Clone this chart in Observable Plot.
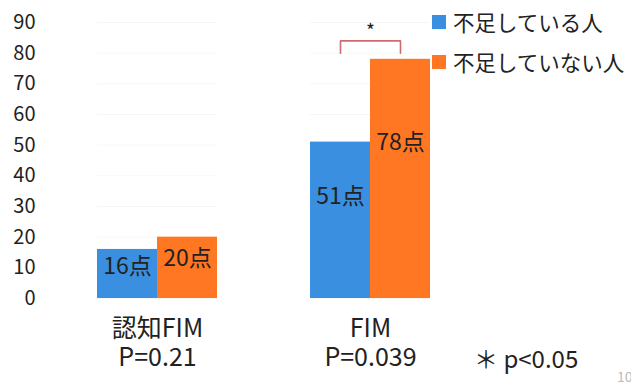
<!DOCTYPE html>
<html>
<head>
<meta charset="utf-8">
<script src="https://cdn.jsdelivr.net/npm/d3@7"></script>
<script src="https://cdn.jsdelivr.net/npm/@observablehq/plot@0.6"></script>
<style>
  html, body { margin: 0; padding: 0; background: #fff; }
  #chart { position: relative; width: 631px; height: 387px; font-family: "Noto Sans CJK JP", "Noto Sans", sans-serif; color: #222; }
  .legend { position: absolute; left: 432px; top: 2px; font-size: 21.5px; line-height: 40px; }
  .legend .row { display: flex; align-items: center; white-space: nowrap; }
  .legend .sw { width: 14px; height: 14px; margin-right: 7px; }
  .note { position: absolute; left: 474px; top: 340px; font-size: 24px; white-space: nowrap; }
  .page { position: absolute; left: 617px; top: 366px; font-size: 14px; color: #bbb; }
</style>
</head>
<body>
<div id="chart"></div>
<script>
// Measures compared and their p-values
const measures = ["認知FIM", "FIM"];
const pValues = ["P=0.21", "P=0.039"];
// Two groups of patients
const groups = ["不足している人", "不足していない人"];
const colors = ["#3a8fe0", "#ff7722"];
// Mean scores (点) per measure, by group
const lacking = [16, 51];
const notLacking = [20, 78];
// Measure with a significant difference (* p<0.05)
const significant = "FIM";
const yTicks = [0, 10, 20, 30, 40, 50, 60, 70, 80, 90];

const rows = measures.flatMap((m, i) => [
  {measure: m, group: groups[0], value: lacking[i]},
  {measure: m, group: groups[1], value: notLacking[i]}
]);

// Bracket over the significant pair, just above the taller bar
const sigMax = d3.max(rows.filter(d => d.measure === significant), d => d.value);
const bracket = [
  {measure: significant, group: groups[0], y: sigMax + 2},
  {measure: significant, group: groups[0], y: sigMax + 6},
  {measure: significant, group: groups[1], y: sigMax + 6},
  {measure: significant, group: groups[1], y: sigMax + 2}
];

const font = "Noto Sans CJK JP, Noto Sans, sans-serif";

const plot = Plot.plot({
  width: 631,
  height: 387,
  marginLeft: 50,
  marginRight: 154,
  marginTop: 22,
  marginBottom: 89,
  style: {fontFamily: font, color: "#222", background: "transparent"},
  fx: {domain: measures, paddingInner: 0.437, paddingOuter: 0.22, label: null, axis: null},
  x: {domain: groups, padding: 0, axis: null},
  y: {domain: [0, 90], label: null, axis: null},
  color: {domain: groups, range: colors},
  marks: [
    Plot.gridY(yTicks, {stroke: "#000", strokeOpacity: 0.035, facet: "exclude"}),
    // the y axis sits in the first facet, so pad its labels back out to the left margin
    Plot.axisY(yTicks, {tickSize: 0, tickPadding: 62, fontSize: 20, label: null}),
    // measure names, with their p-values on a second line
    Plot.axisFx({
      anchor: "bottom", tickSize: 0, tickPadding: 21, fontSize: 25,
      textAnchor: "middle", label: null
    }),
    Plot.axisFx({
      anchor: "bottom", tickSize: 0, tickPadding: 50, fontSize: 25,
      textAnchor: "middle", label: null,
      tickFormat: d => pValues[measures.indexOf(d)]
    }),
    Plot.barY(rows, {fx: "measure", x: "group", y: "value", fill: "group"}),
    Plot.text(rows, {
      fx: "measure", x: "group", y: d => d.value * 0.65,
      text: d => d.value + "点", fontSize: 23, fill: "#222"
    }),
    Plot.line(bracket, {fx: "measure", x: "group", y: "y", stroke: "#d06a72", strokeWidth: 1.6}),
    Plot.text([{measure: significant, y: sigMax + 6}], {
      fx: "measure", y: "y", text: () => "*", fontSize: 19, dy: -9, fill: "#222",
      frameAnchor: "middle"
    })
  ]
});

const chart = document.getElementById("chart");
chart.appendChild(plot);

// Group legend to the right of the bars
const legend = document.createElement("div");
legend.className = "legend";
groups.forEach((g, i) => {
  const row = document.createElement("div");
  row.className = "row";
  const sw = document.createElement("span");
  sw.className = "sw";
  sw.style.background = colors[i];
  row.appendChild(sw);
  row.appendChild(document.createTextNode(g));
  legend.appendChild(row);
});
chart.appendChild(legend);

const note = document.createElement("div");
note.className = "note";
note.textContent = "＊ p<0.05";
chart.appendChild(note);

const page = document.createElement("div");
page.className = "page";
page.textContent = "10";
chart.appendChild(page);
</script>
</body>
</html>
